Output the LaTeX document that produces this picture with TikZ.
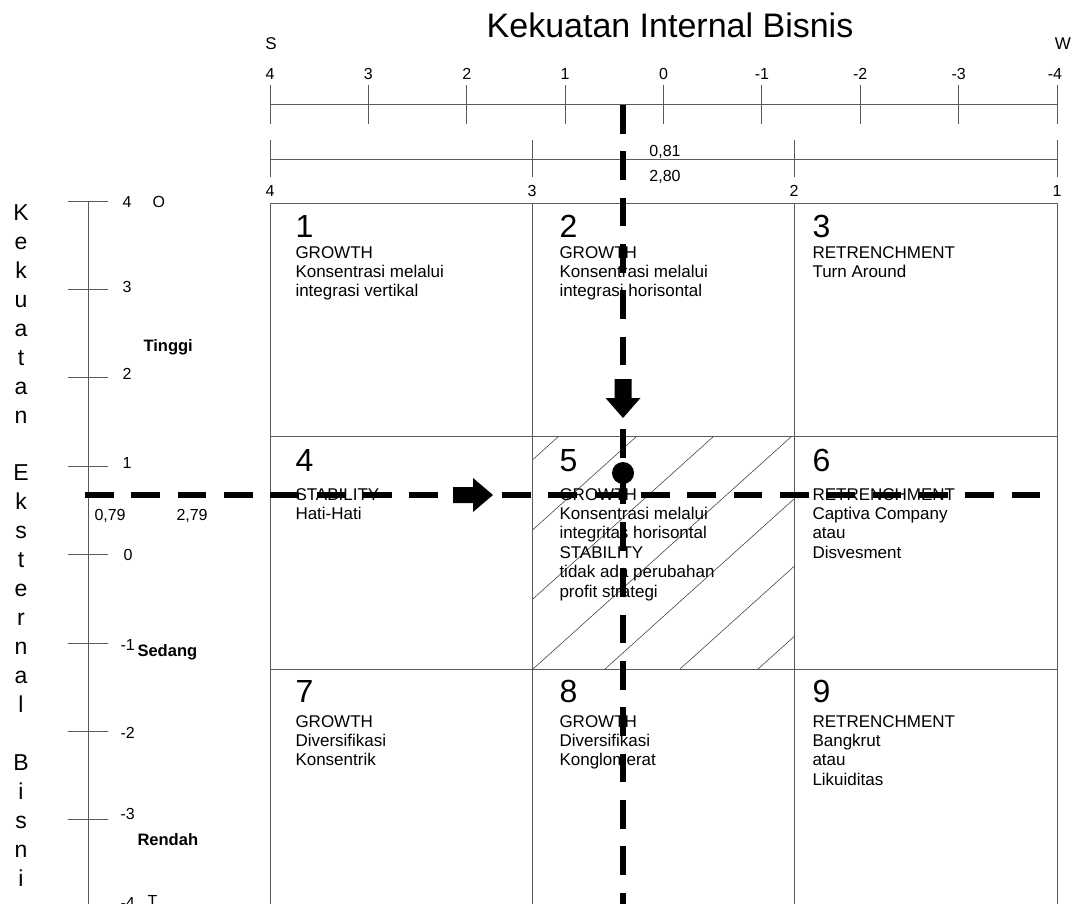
\documentclass[tikz,border=0pt]{standalone}
\usepackage{fontspec}
\setmainfont{Liberation Sans}
\tikzset{every picture/.style={line width=0.75pt}}
\tikzset{
  thinline/.style={color={rgb, 255:red, 90; green, 90; blue, 90}, line width=0.7pt},
  hatchline/.style={color={rgb, 255:red, 70; green, 70; blue, 70}, line width=0.45pt},
  thickdash/.style={line width=4.5pt, dash pattern={on 21.45pt off 13.3pt}},
  cellnum/.style={anchor=base west, inner sep=0pt, font=\fontsize{24}{28}\selectfont},
  celltxt/.style={anchor=base west, inner sep=0pt, align=left, font=\fontsize{12.75}{14.55}\selectfont},
  axnum/.style={anchor=base, inner sep=0pt, font=\fontsize{12}{14}\selectfont},
  sidenum/.style={anchor=base west, inner sep=0pt, font=\fontsize{12}{14}\selectfont},
  levellbl/.style={anchor=base west, inner sep=0pt, font=\bfseries\fontsize{12.4}{14}\selectfont},
}

\begin{document}
\begin{tikzpicture}[x=0.75pt,y=0.75pt,yscale=-1,xscale=1]
\useasboundingbox (0,0) rectangle (1077,903);

%Shape: Hatch of cell 5
\begin{scope}
\clip (532,436) rectangle (794,669);
\draw [hatchline] (300,669) -- ++(259,-233) (378,669) -- ++(259,-233) (455,669) -- ++(259,-233) (533,669) -- ++(259,-233) (605,669) -- ++(259,-233) (680,669) -- ++(259,-233) (758,669) -- ++(259,-233);
\end{scope}

%Straight Lines [grid rows]
\draw [thinline] (270,203) -- (1057,203) (270,436) -- (1057,436) (270,669) -- (1057,669);
%Straight Lines [grid columns]
\draw [thinline] (270,203) -- (270,910) (532,203) -- (532,910) (794,203) -- (794,910) (1057,203) -- (1057,910);

%Shape: Axis top
\draw [thinline] (270,104) -- (1057,104);
\draw [thinline] (270,85) -- (270,124) (368.4,85) -- (368.4,124) (466.75,85) -- (466.75,124) (565.1,85) -- (565.1,124) (663.5,85) -- (663.5,124) (761.9,85) -- (761.9,124) (860.25,85) -- (860.25,124) (958.6,85) -- (958.6,124) (1057,85) -- (1057,124);
%Shape: Axis second
\draw [thinline] (270,159) -- (1057,159);
\draw [thinline] (270,140) -- (270,177) (532,140) -- (532,177) (794,140) -- (794,177) (1057,140) -- (1057,177);
%Shape: Axis left
\draw [thinline] (88,201) -- (88,910);
\draw [thinline] (68,201) -- (108,201) (68,289.4) -- (108,289.4) (68,377.8) -- (108,377.8) (68,466.2) -- (108,466.2) (68,554.6) -- (108,554.6) (68,643) -- (108,643) (68,731.4) -- (108,731.4) (68,819.8) -- (108,819.8) (68,908.2) -- (108,908.2);

% Text Node
\node [anchor=base, inner sep=0pt, font=\fontsize{25.5}{30}\selectfont] (title) at (670,37) {Kekuatan Internal Bisnis};
% Text Node
\node [anchor=base, inner sep=0pt, font=\fontsize{12.75}{15}\selectfont] (lblS) at (271,49) {S};
% Text Node
\node [anchor=base, inner sep=0pt, font=\fontsize{12.75}{15}\selectfont] (lblW) at (1063,49) {W};
% Text Node
\node [axnum] (top4) at (270,79) {4};
\node [axnum] (top3) at (368.4,79) {3};
\node [axnum] (top2) at (466.75,79) {2};
\node [axnum] (top1) at (565.1,79) {1};
\node [axnum] (top0) at (663.5,79) {0};
\node [axnum] (topm1) at (761.9,79) {-1};
\node [axnum] (topm2) at (860.25,79) {-2};
\node [axnum] (topm3) at (958.6,79) {-3};
\node [axnum] (topm4) at (1055,79) {-4};
% Text Node
\node [axnum] (sec4) at (270,196) {4};
\node [axnum] (sec3) at (532,196) {3};
\node [axnum] (sec2) at (794,196) {2};
\node [axnum] (sec1) at (1057,196) {1};
\node [axnum] (valx) at (665,156) {0,81};
\node [axnum] (valxx) at (665,181) {2,80};

% Text Node (base = last line)
\node [anchor=base, inner sep=0pt, align=center, font=\fontsize{17.25}{21.7}\selectfont] (sidetitle) at (21,886) {K\\e\\k\\u\\a\\t\\a\\n\\~\\E\\k\\s\\t\\e\\r\\n\\a\\l\\~\\B\\i\\s\\n\\i};
% Text Node
\node [sidenum] (left4) at (122,207) {4};
\node [sidenum] (lblO) at (152,207) {O};
\node [sidenum] (left3) at (122,292) {3};
\node [sidenum] (left2) at (122,379) {2};
\node [sidenum] (left1) at (122,468) {1};
\node [sidenum] (left0) at (123,560) {0};
\node [sidenum] (leftm1) at (120,650) {-1};
\node [sidenum] (leftm2) at (120,738) {-2};
\node [sidenum] (leftm3) at (120,819) {-3};
\node [sidenum] (leftm4) at (120,908) {-4};
\node [sidenum] (lblT) at (147,906) {T};
\node [sidenum] (valy) at (94,520) {0,79};
\node [sidenum] (valyy) at (176,520) {2,79};
% Text Node
\node [levellbl] (tinggi) at (143,351) {Tinggi};
\node [levellbl] (sedang) at (137,656) {Sedang};
\node [levellbl] (rendah) at (137,845) {Rendah};

% Text Node [cells, base = last line]
\node [cellnum] (n1) at (295,237) {1};
\node [celltxt] (c1) at (295,296.8) {GROWTH\\Konsentrasi melalui\\integrasi vertikal};
\node [cellnum] (n2) at (559,237) {2};
\node [celltxt] (c2) at (559,296.8) {GROWTH\\Konsentrasi melalui\\integrasi horisontal};
\node [cellnum] (n3) at (812,237) {3};
\node [celltxt] (c3) at (812,277.4) {RETRENCHMENT\\Turn Around};
\node [cellnum] (n4) at (295,471) {4};
\node [celltxt] (c4) at (295,519.4) {STABILITY\\Hati-Hati};
\node [cellnum] (n5) at (559,471) {5};
\node [celltxt] (c5) at (559,597) {GROWTH\\Konsentrasi melalui\\integritas horisontal\\STABILITY\\tidak ada perubahan\\profit strategi};
\node [cellnum] (n6) at (812,471) {6};
\node [celltxt] (c6) at (812,558.2) {RETRENCHMENT\\Captiva Company\\atau\\Disvesment};
\node [cellnum] (n7) at (295,702) {7};
\node [celltxt] (c7) at (295,765.8) {GROWTH\\Diversifikasi\\Konsentrik};
\node [cellnum] (n8) at (559,702) {8};
\node [celltxt] (c8) at (559,765.8) {GROWTH\\Diversifikasi\\Konglomerat};
\node [cellnum] (n9) at (812,702) {9};
\node [celltxt] (c9) at (812,785.2) {RETRENCHMENT\\Bangkrut\\atau\\Likuiditas};

%Straight Lines [position lines]
\draw [thickdash] (85,495) -- (1040,495);
\draw [thickdash] (623,105) -- (623,910);
%Shape: Block arrows
\fill (614.5,379) -- (631.5,379) -- (631.5,398) -- (640.5,398) -- (623,418) -- (605.5,398) -- (614.5,398) -- cycle;
\fill (453,487) -- (473,487) -- (473,478) -- (493,495) -- (473,512) -- (473,503) -- (453,503) -- cycle;
%Shape: Circle
\fill (623,473) circle [radius=11];

\end{tikzpicture}
\end{document}
